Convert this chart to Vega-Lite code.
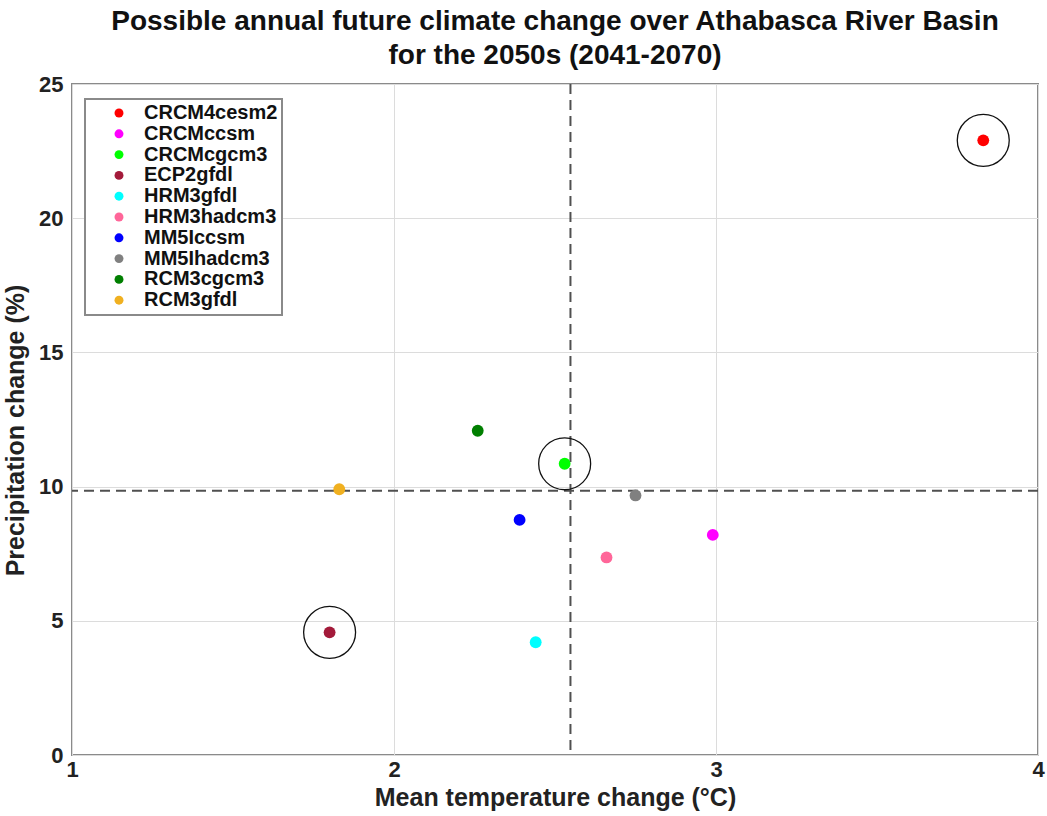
{
  "$schema": "https://vega.github.io/schema/vega-lite/v6.json",
  "autosize": "none",
  "width": 966,
  "height": 671,
  "padding": {"left": 72, "top": 84, "right": 9, "bottom": 61},
  "background": "white",
  "config": {
    "font": "Liberation Sans",
    "view": {"stroke": "#8a8a8a", "strokeWidth": 2},
    "axis": {
      "grid": true,
      "gridColor": "#dcdcdc",
      "gridWidth": 1,
      "domain": false,
      "ticks": false,
      "labelFlush": false,
      "labelFont": "Liberation Sans",
      "labelFontWeight": "bold",
      "labelFontSize": 22,
      "labelColor": "#222222",
      "titleFont": "Liberation Sans",
      "titleFontWeight": "bold",
      "titleFontSize": 25,
      "titleColor": "#222222"
    }
  },
  "title": {
    "text": ["Possible annual future climate change over Athabasca River Basin", "for the 2050s (2041-2070)"],
    "font": "Liberation Sans",
    "fontSize": 28,
    "fontWeight": "bold",
    "color": "#111111",
    "anchor": "middle",
    "offset": 3,
    "lineHeight": 34
  },
  "datasets": {
    "models": [
      {"model": "CRCM4cesm2", "temp": 3.83, "precip": 22.9},
      {"model": "CRCMccsm", "temp": 2.99, "precip": 8.2},
      {"model": "CRCMcgcm3", "temp": 2.53, "precip": 10.85},
      {"model": "ECP2gfdl", "temp": 1.8, "precip": 4.57},
      {"model": "HRM3gfdl", "temp": 2.44, "precip": 4.2},
      {"model": "HRM3hadcm3", "temp": 2.66, "precip": 7.36},
      {"model": "MM5Iccsm", "temp": 2.39, "precip": 8.76},
      {"model": "MM5Ihadcm3", "temp": 2.75, "precip": 9.67},
      {"model": "RCM3cgcm3", "temp": 2.26, "precip": 12.08},
      {"model": "RCM3gfdl", "temp": 1.83, "precip": 9.9}
    ],
    "ensemble_mean": [
      {"temp": 2.548, "precip": 9.85}
    ]
  },
  "layer": [
    {
      "data": {"name": "ensemble_mean"},
      "mark": {"type": "rule", "color": "#505050", "strokeWidth": 2, "strokeDash": [10, 6]},
      "encoding": {
        "x": {"field": "temp", "type": "quantitative"}
      }
    },
    {
      "data": {"name": "ensemble_mean"},
      "mark": {"type": "rule", "color": "#505050", "strokeWidth": 2, "strokeDash": [10, 6]},
      "encoding": {
        "y": {"field": "precip", "type": "quantitative"}
      }
    },
    {
      "data": {"name": "models"},
      "transform": [{"filter": {"field": "model", "oneOf": ["CRCM4cesm2", "CRCMcgcm3", "ECP2gfdl"]}}],
      "mark": {"type": "point", "shape": "circle", "filled": false, "color": "#111111", "strokeWidth": 1.3, "size": 2700, "opacity": 1},
      "encoding": {
        "x": {"field": "temp", "type": "quantitative"},
        "y": {"field": "precip", "type": "quantitative"}
      }
    },
    {
      "data": {"name": "models"},
      "mark": {"type": "circle", "size": 140, "opacity": 1},
      "encoding": {
        "x": {
          "field": "temp",
          "type": "quantitative",
          "scale": {"domain": [1, 4], "nice": false, "zero": false},
          "axis": {"values": [1, 2, 3, 4], "format": "d", "title": "Mean temperature change (°C)", "labelPadding": 4, "titlePadding": 5}
        },
        "y": {
          "field": "precip",
          "type": "quantitative",
          "scale": {"domain": [0, 25], "nice": false},
          "axis": {"values": [0, 5, 10, 15, 20, 25], "format": "d", "title": "Precipitation change (%)", "titleY": 346, "labelPadding": 9, "titlePadding": 10}
        },
        "color": {
          "field": "model",
          "type": "nominal",
          "scale": {
            "domain": ["CRCM4cesm2", "CRCMccsm", "CRCMcgcm3", "ECP2gfdl", "HRM3gfdl", "HRM3hadcm3", "MM5Iccsm", "MM5Ihadcm3", "RCM3cgcm3", "RCM3gfdl"],
            "range": ["#ff0000", "#ff00ff", "#00ff00", "#a31a3a", "#00ffff", "#ff6699", "#0000ff", "#808080", "#007f00", "#f0b020"]
          },
          "legend": {
            "title": null,
            "orient": "none",
            "legendX": 13,
            "legendY": 15,
            "fillColor": "white",
            "strokeColor": "#8a8a8a",
            "padding": 4,
            "symbolType": "circle",
            "symbolSize": 80,
            "symbolOpacity": 1,
            "symbolStrokeWidth": 0,
            "symbolOffset": 20,
            "labelFont": "Liberation Sans",
            "labelFontWeight": "bold",
            "labelFontSize": 20,
            "labelColor": "#111111",
            "labelOffset": 15,
            "rowPadding": 0.8,
            "labelLimit": 300,
            "encode": {"legend": {"update": {"strokeWidth": {"value": 2}}}}
          }
        }
      }
    }
  ]
}
